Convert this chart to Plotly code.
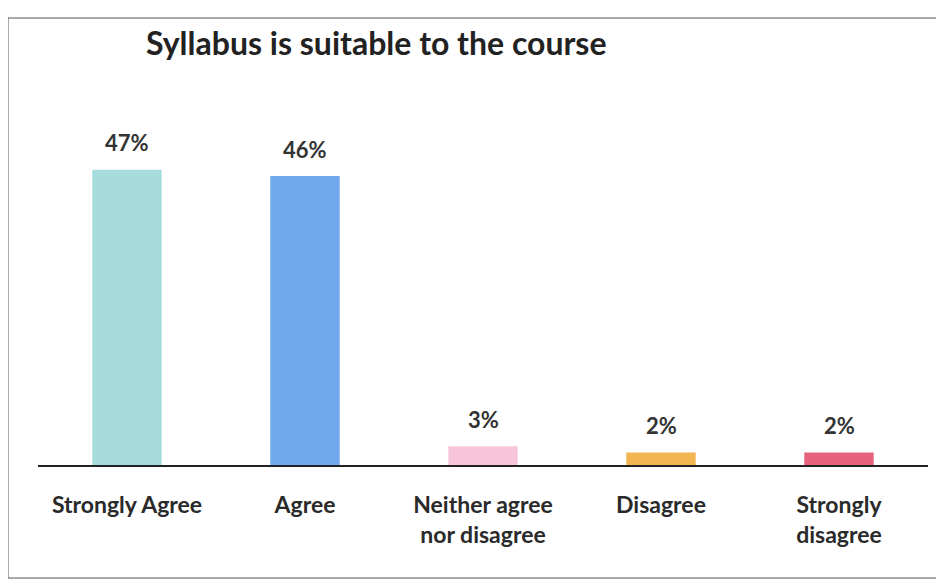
import plotly.graph_objects as go

categories = ["Strongly Agree", "Agree", "Neither agree<br>nor disagree", "Disagree", "Strongly<br>disagree"]
percent = [47, 46, 3, 2, 2]
bar_labels = ["47%", "46%", "3%", "2%", "2%"]
bar_colors = ["#a6dcdc", "#72a8ec", "#f8c4da", "#f2b552", "#e5647c"]

fig = go.Figure()

fig.add_trace(
    go.Bar(
        x=categories,
        y=percent,
        marker=dict(color=bar_colors, line=dict(width=0)),
        width=0.39
    )
)

# value labels above the bars
for cat, val, lab in zip(categories, percent, bar_labels):
    fig.add_annotation(
        x=cat, y=val,
        text=lab,
        showarrow=False,
        yanchor="middle",
        yshift=27,
        font=dict(family="Lato", size=22, color="#333333", weight="bold")
    )

fig.update_xaxes(
    showline=True,
    linecolor="#222222",
    linewidth=1.5,
    ticks="",
    automargin=False,
    tickfont=dict(family="Lato", size=23, color="#2a2a2a", weight="bold"),
    ticklabelstandoff=19
)

fig.update_yaxes(
    range=[0, 50],
    visible=False,
    showgrid=False
)

fig.add_annotation(
    text="<b>Syllabus is suitable to the course</b>",
    xref="paper", yref="paper",
    x=0.1195, y=1.0,
    xanchor="left", yanchor="middle",
    yshift=109,
    showarrow=False,
    font=dict(family="Lato", size=32, color="#222222")
)

# frame around the chart (right edge runs off the page like the scan)
fig.add_shape(
    type="rect",
    xref="paper", yref="paper",
    x0=-30 / 890, x1=1 + 40 / 890, y0=-113 / 314, y1=1 + 133 / 314,
    line=dict(color="#555555", width=1)
)

fig.update_layout(
    width=944,
    height=582,
    margin=dict(l=30, r=24, t=143, b=125),
    plot_bgcolor="white",
    paper_bgcolor="white",
    showlegend=False,
    bargap=0.61
)

fig.write_html("out.html")
